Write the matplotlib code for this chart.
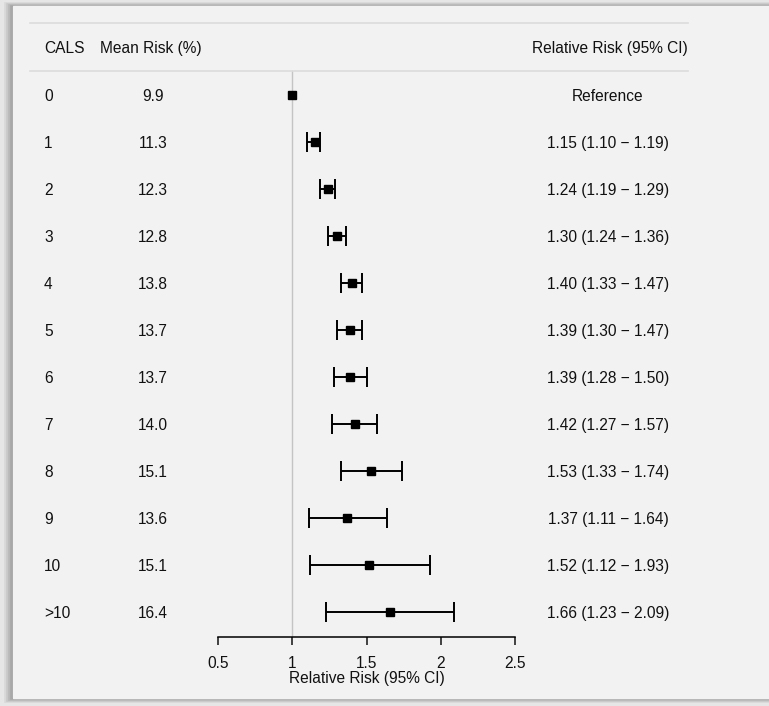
import matplotlib
matplotlib.use("Agg")
import matplotlib.pyplot as plt
import matplotlib.transforms as mtransforms
from matplotlib.patches import Rectangle

plt.rcParams['font.family'] = ['Liberation Sans', 'DejaVu Sans']

cals = ['0', '1', '2', '3', '4', '5', '6', '7', '8', '9', '10', '>10']
mean_risk = [9.9, 11.3, 12.3, 12.8, 13.8, 13.7, 13.7, 14.0, 15.1, 13.6, 15.1, 16.4]
rr = [1.00, 1.15, 1.24, 1.30, 1.40, 1.39, 1.39, 1.42, 1.53, 1.37, 1.52, 1.66]
rr_lo = [None, 1.10, 1.19, 1.24, 1.33, 1.30, 1.28, 1.27, 1.33, 1.11, 1.12, 1.23]
rr_hi = [None, 1.19, 1.29, 1.36, 1.47, 1.47, 1.50, 1.57, 1.74, 1.64, 1.93, 2.09]
xticks = [0.5, 1, 1.5, 2, 2.5]
xtick_labels = ['0.5', '1', '1.5', '2', '2.5']

W, H = 769, 706
fig = plt.figure(figsize=(W / 100, H / 100), dpi=100)
fig.patch.set_facecolor('#f2f2f2')

# shadow frame around the panel
for i, c in enumerate(['#9a9a9a', '#a8a8a8', '#b8b8b8', '#c8c8c8', '#d8d8d8', '#e6e6e6']):
    fig.patches.append(Rectangle((0, 1 - (6 - i) / H), 1, (6 - i) / H, transform=fig.transFigure,
                                 color=c, zorder=-5 + i * 0.01))
    fig.patches.append(Rectangle((0, 0), (13 - 2 * i) / W, 1, transform=fig.transFigure,
                                 color=c, zorder=-5 + i * 0.01))
    fig.patches.append(Rectangle((0, 0), 1, (8 - i) / H, transform=fig.transFigure,
                                 color=c, zorder=-5 + i * 0.01))
fig.patches.append(Rectangle((13 / W, 8 / H), 1, 1 - 14 / H, transform=fig.transFigure,
                             color='#f2f2f2', zorder=-4))

ax = fig.add_axes([218 / W, (H - 637) / H, 297 / W, (637 - 23) / H])
ax.set_facecolor('none')
ax.set_xlim(0.5, 2.5)
ax.set_ylim(11.53, -1.53)

for s in ['top', 'right', 'left']:
    ax.spines[s].set_visible(False)
ax.spines['bottom'].set_bounds(0.5, 2.5)
ax.spines['bottom'].set_linewidth(1.1)
ax.set_yticks([])
ax.set_xticks(xticks)
ax.set_xticklabels(xtick_labels)
fs = 11.2
tc = '#111111'
ax.tick_params(axis='x', direction='out', length=6, width=1.1, pad=8, labelsize=fs, colors=tc)
ax.set_xlabel('Relative Risk (95% CI)', fontsize=fs, labelpad=0, color=tc)

# reference line
ax.plot([1, 1], [-0.5, 11.53], color='#c4c4c4', lw=1.0, zorder=1)

rows = list(range(len(cals)))
for i in rows:
    if rr_lo[i] is not None:
        ax.errorbar(rr[i], i, xerr=[[rr[i] - rr_lo[i]], [rr_hi[i] - rr[i]]], fmt='none',
                    ecolor='black', elinewidth=1.4, capsize=7, capthick=1.4, zorder=3)
ax.plot(rr, rows, 's', color='black', markersize=6, zorder=4)

tr = mtransforms.blended_transform_factory(fig.transFigure, ax.transData)
dy = 0.035

# header and separators
ax.plot([30 / W, 688 / W], [-1.53, -1.53], transform=tr, color='#dcdcdc', lw=1.2, clip_on=False)
ax.plot([30 / W, 688 / W], [-0.51, -0.51], transform=tr, color='#dcdcdc', lw=1.2, clip_on=False)
ax.text(44 / W, -1.02 + dy, 'CALS', transform=tr, ha='left', va='center', fontsize=fs, color=tc)
ax.text(100 / W, -1.02 + dy, 'Mean Risk (%)', transform=tr, ha='left', va='center', fontsize=fs, color=tc)
ax.text(688 / W, -1.02 + dy, 'Relative Risk (95% CI)', transform=tr, ha='right', va='center', fontsize=fs, color=tc)

for i in rows:
    ax.text(44 / W, i + dy, cals[i], transform=tr, ha='left', va='center', fontsize=fs, color=tc)
    ax.text(153 / W, i + dy, f'{mean_risk[i]:.1f}', transform=tr, ha='center', va='center', fontsize=fs, color=tc)
    if rr_lo[i] is None:
        lab = 'Reference'
    else:
        lab = f'{rr[i]:.2f} ({rr_lo[i]:.2f} \u2212 {rr_hi[i]:.2f})'
    ax.text(608 / W, i + dy, lab, transform=tr, ha='center', va='center', fontsize=fs, color=tc)

fig.savefig('out.png', dpi=100, facecolor=fig.get_facecolor())
